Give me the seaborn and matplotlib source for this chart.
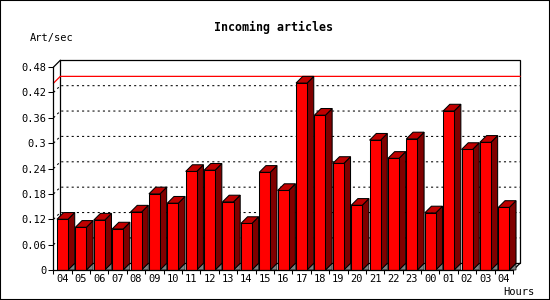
import numpy as np
import pandas as pd
import matplotlib
matplotlib.use("Agg")
import matplotlib.pyplot as plt
import seaborn as sns
from matplotlib.patches import Polygon, Rectangle

# ---- data ----
hours = ["04", "05", "06", "07", "08", "09", "10", "11", "12", "13", "14", "15",
         "16", "17", "18", "19", "20", "21", "22", "23", "00", "01", "02", "03", "04"]
rates = [0.120, 0.101, 0.118, 0.097, 0.137, 0.180, 0.158, 0.233, 0.236, 0.161,
         0.110, 0.231, 0.188, 0.442, 0.366, 0.252, 0.153, 0.307, 0.264, 0.310,
         0.135, 0.376, 0.285, 0.302, 0.148]
y_ticks = [0, 0.06, 0.12, 0.18, 0.24, 0.30, 0.36, 0.42, 0.48]
y_tick_labels = ["0", "0.06", "0.12", "0.18", "0.24", "0.3", "0.36", "0.42", "0.48"]
title = "Incoming articles"
y_title = "Art/sec"
x_title = "Hours"

plt.rcParams["font.family"] = ["DejaVu Sans Mono", "DejaVu Sans"]

W, H = 550, 300
fig = plt.figure(figsize=(W / 100, H / 100), dpi=100)
fig.patch.set_facecolor("white")

# front plane of the 3D box, in pixels
left_px, right_px, top_px, bot_px = 53.3, 513.3, 67.0, 270.0
ax = fig.add_axes([left_px / W, 1 - bot_px / H, (right_px - left_px) / W, (bot_px - top_px) / H])
ax.patch.set_visible(False)

df = pd.DataFrame({"slot": np.arange(len(rates)), "rate": rates})
sns.barplot(data=df, x="slot", y="rate", color="#ff0000", saturation=1, width=0.6,
            edgecolor="black", linewidth=0.75, ax=ax, zorder=3)

n = len(rates)
xmin, xmax = -0.484, n - 0.484
ymin, ymax = 0, 0.48
ax.set_xlim(xmin, xmax)
ax.set_ylim(ymin, ymax)
ax.set_xlabel("")
ax.set_ylabel("")

# depth offset (7 px) in data units
px_x = (xmax - xmin) / (right_px - left_px)
px_y = (ymax - ymin) / (bot_px - top_px)
dx = 6.7 * px_x
dy = 6.7 * px_y

# back wall
ax.add_patch(Rectangle((xmin + dx, dy), xmax - xmin, ymax, facecolor="white",
                       edgecolor="black", linewidth=0.9, zorder=0.2, clip_on=False))
# left wall / top connectors
ax.plot([xmin, xmin + dx], [ymax, ymax + dy], color="black", lw=0.9, clip_on=False, zorder=0.3)
ax.plot([xmax, xmax + dx], [0, dy], color="black", lw=0.9, clip_on=False, zorder=0.3)

# dotted grid on back wall
for t in y_ticks[1:-1]:
    ax.plot([xmin, xmin + dx, xmax + dx], [t, t + dy, t + dy], color="black",
            lw=0.75, linestyle=(0, (2, 3)), clip_on=False, zorder=0.5)

# max line in red
vmax = max(rates)
ax.plot([xmin, xmin + dx, xmax + dx], [vmax, vmax + dy, vmax + dy], color="#ff0000",
        lw=0.9, clip_on=False, zorder=0.6)

# 3D faces of bars
for p in list(ax.patches):
    if not isinstance(p, Rectangle) or p.get_height() <= 0 or p.get_width() > 1:
        continue
    x0, w, h = p.get_x(), p.get_width(), p.get_height()
    r = x0 + w
    # floor shadow
    ax.add_patch(Polygon([(r, 0), (r + dx, dy), (r + dx, 0)], closed=True,
                         facecolor="#808080", edgecolor="black", linewidth=0.5,
                         zorder=2.5, clip_on=False))
    # side
    ax.add_patch(Polygon([(r, 0), (r + dx, dy), (r + dx, h + dy), (r, h)], closed=True,
                         facecolor="#800000", edgecolor="black", linewidth=0.75,
                         zorder=2.8, clip_on=False))
    # top
    ax.add_patch(Polygon([(x0, h), (r, h), (r + dx, h + dy), (x0 + dx, h + dy)], closed=True,
                         facecolor="#c00000", edgecolor="black", linewidth=0.75,
                         zorder=2.8, clip_on=False))

# spines
for s in ["top", "right"]:
    ax.spines[s].set_visible(False)
for s in ["left", "bottom"]:
    ax.spines[s].set_linewidth(0.9)
    ax.spines[s].set_color("black")
    ax.spines[s].set_zorder(4)

# ticks
ax.set_yticks(y_ticks, labels=y_tick_labels)
ax.tick_params(axis="y", length=3.6, width=0.75, pad=1.5, labelsize=7.5, colors="black")
ax.set_xticks(np.arange(n + 1) - 0.5, labels=[""] * (n + 1))
ax.set_xticks(np.arange(n), labels=hours, minor=True)
ax.tick_params(axis="x", which="major", length=3.2, width=0.75, colors="black")
ax.tick_params(axis="x", which="minor", length=0, pad=3, labelsize=7.5)

# texts
fig.text(274 / W, 1 - 27.5 / H, title, ha="center", va="center", fontsize=8.4, fontweight="bold")
fig.text(30 / W, 1 - 38 / H, y_title, ha="left", va="center", fontsize=7.5)
fig.text(534 / W, 1 - 292 / H, x_title, ha="right", va="center", fontsize=7.5)

# outer border
fig.add_artist(Rectangle((0, 0), 1, 1, transform=fig.transFigure, fill=False,
                         edgecolor="black", linewidth=1.5))

fig.savefig("out.png", dpi=100, facecolor="white")
